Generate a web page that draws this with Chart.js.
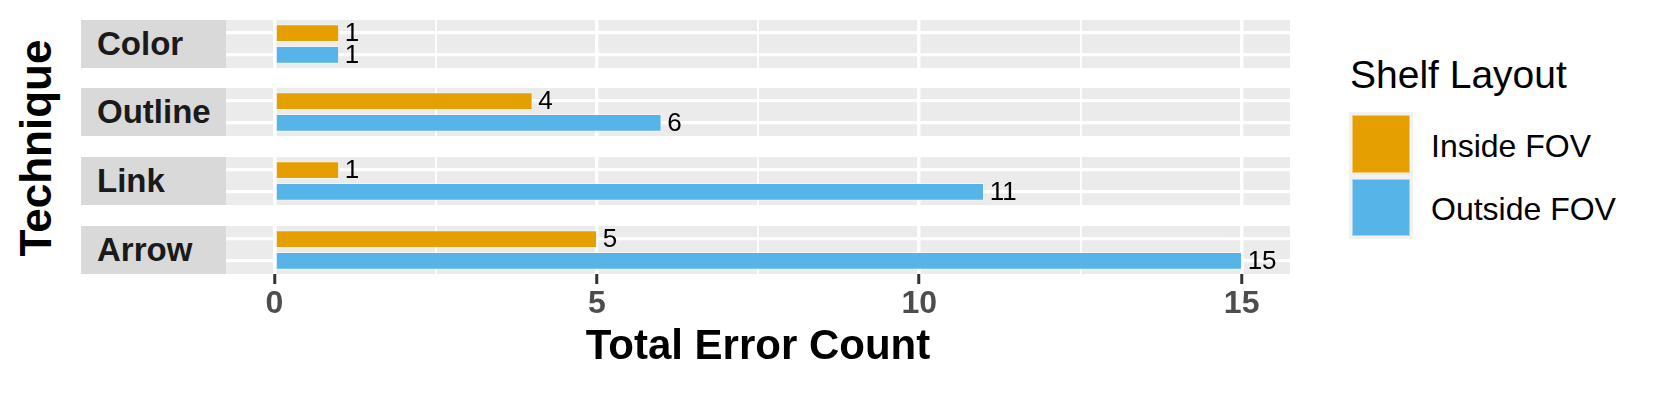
<!DOCTYPE html>
<html>
<head>
<meta charset="utf-8">
<script src="https://cdn.jsdelivr.net/npm/chart.js@4/dist/chart.umd.min.js"></script>
<style>
  html, body { margin: 0; padding: 0; background: #ffffff; }
  body { width: 1661px; height: 394px; position: relative; overflow: hidden;
         font-family: "Liberation Sans", Arial, Helvetica, sans-serif; }
  canvas { position: absolute; }
  .strip { position: absolute; background: #D9D9D9; color: #1A1A1A; font-weight: bold;
           font-size: 33px; box-sizing: border-box; padding-left: 16px; white-space: nowrap; }
  .ytitle { position: absolute; width: 300px; height: 50px; line-height: 50px; text-align: center;
            font-size: 44px; font-weight: bold; color: #000; transform: rotate(-90deg); white-space: nowrap; }
  .legtitle { position: absolute; font-size: 39px; line-height: 39px; color: #000; white-space: nowrap; }
  .legkey { position: absolute; background: #F2F2F2; box-sizing: border-box; padding: 3px; }
  .legkey div { width: 100%; height: 100%; box-sizing: border-box; border: 1px solid rgba(255,255,255,0.45); }
  .leglabel { position: absolute; font-size: 32px; line-height: 32px; color: #000; white-space: nowrap; }
</style>
</head>
<body>
<script>
// ---------------- data ----------------
const techniques = ['Color', 'Outline', 'Link', 'Arrow'];
const shelfLayouts = ['Inside FOV', 'Outside FOV'];
const insideFOV = [1, 4, 1, 5];
const outsideFOV = [1, 6, 11, 15];
const xTickValues = [0, 2.5, 5, 7.5, 10, 12.5, 15];
const xTitle = 'Total Error Count';
const yTitle = 'Technique';
const legendTitle = 'Shelf Layout';

// ---------------- style / layout ----------------
const seriesColors = ['#E69F00', '#56B4E9'];
const panelLeft = 226, panelWidth = 1064;
const facetTops = [20, 88, 157, 226];
const facetHeight = 48;
const stripLeft = 81;
const xMin = -0.75, xMax = 15.75;
const FONT = '"Liberation Sans", Arial, Helvetica, sans-serif';

const body = document.body;

// y title
const yt = document.createElement('div');
yt.className = 'ytitle';
yt.textContent = yTitle;
yt.style.left = (36 - 150) + 'px';
yt.style.top = (147.5 - 25) + 'px';
body.appendChild(yt);

// legend
const lt = document.createElement('div');
lt.className = 'legtitle';
lt.textContent = legendTitle;
lt.style.left = '1350px';
lt.style.top = (88.3 - 0.8465 * 39) + 'px';
body.appendChild(lt);
const keyTops = [112, 175.5];
const labelBaselines = [156.7, 220];
shelfLayouts.forEach((name, k) => {
  const key = document.createElement('div');
  key.className = 'legkey';
  key.style.left = '1349px';
  key.style.top = keyTops[k] + 'px';
  key.style.width = '64px';
  key.style.height = '63.5px';
  const inner = document.createElement('div');
  inner.style.background = seriesColors[k];
  key.appendChild(inner);
  body.appendChild(key);
  const lab = document.createElement('div');
  lab.className = 'leglabel';
  lab.textContent = name;
  lab.style.left = '1431px';
  lab.style.top = (labelBaselines[k] - 0.8465 * 32) + 'px';
  body.appendChild(lab);
});

// plugins
const panelBg = {
  id: 'panelBg',
  beforeDraw(chart) {
    const {ctx, chartArea: a} = chart;
    ctx.save();
    ctx.fillStyle = '#EBEBEB';
    ctx.fillRect(a.left, a.top, a.right - a.left, a.bottom - a.top);
    ctx.restore();
  }
};
const valueLabels = {
  id: 'valueLabels',
  afterDatasetsDraw(chart) {
    const {ctx} = chart;
    ctx.save();
    ctx.font = '26px ' + FONT;
    ctx.fillStyle = '#000000';
    ctx.textAlign = 'left';
    ctx.textBaseline = 'middle';
    chart.data.datasets.forEach((ds, di) => {
      chart.getDatasetMeta(di).data.forEach((bar, j) => {
        ctx.fillText(String(ds.data[j].x), bar.x + 6, bar.y + 1);
      });
    });
    ctx.restore();
  }
};

const isMajor = v => Math.abs(v % 5) < 1e-9;

techniques.forEach((tech, i) => {
  const isLast = i === techniques.length - 1;

  // strip
  const s = document.createElement('div');
  s.className = 'strip';
  s.textContent = tech;
  s.style.left = stripLeft + 'px';
  s.style.top = facetTops[i] + 'px';
  s.style.width = (panelLeft - stripLeft) + 'px';
  s.style.height = facetHeight + 'px';
  s.style.lineHeight = facetHeight + 'px';
  body.appendChild(s);

  const canvasHeight = isLast ? (394 - facetTops[i]) : facetHeight;
  const axisHeight = 10 + 4.5 + 32 + 42 + 6;
  const c = document.createElement('canvas');
  c.width = panelWidth;
  c.height = canvasHeight;
  c.style.left = panelLeft + 'px';
  c.style.top = facetTops[i] + 'px';
  c.style.width = panelWidth + 'px';
  c.style.height = canvasHeight + 'px';
  body.appendChild(c);

  new Chart(c.getContext('2d'), {
    type: 'bar',
    data: {
      datasets: [{
        label: tech,
        data: [{x: insideFOV[i], y: 1}, {x: outsideFOV[i], y: 2}],
        backgroundColor: seriesColors,
        borderColor: 'rgba(255,255,255,0.45)',
        borderWidth: 1,
        borderSkipped: false,
        barThickness: 17
      }]
    },
    options: {
      indexAxis: 'y',
      responsive: false,
      animation: false,
      devicePixelRatio: 1,
      layout: { padding: { left: 0, right: 0, top: 0,
        bottom: isLast ? (canvasHeight - facetHeight - axisHeight) : 0 } },
      plugins: { legend: { display: false }, tooltip: { enabled: false } },
      scales: {
        x: {
          type: 'linear',
          position: 'bottom',
          min: xMin, max: xMax,
          offset: false,
          afterBuildTicks: sc => { sc.ticks = xTickValues.map(v => ({value: v})); },
          afterFit: sc => { if (isLast) sc.height = axisHeight; },
          border: { display: false },
          grid: {
            offset: false,
            color: '#FFFFFF',
            lineWidth: ctx => isMajor(ctx.tick.value) ? 3.5 : 1.8,
            drawTicks: isLast,
            tickLength: 10,
            tickColor: ctx => isMajor(ctx.tick.value) ? '#333333' : 'rgba(0,0,0,0)',
            tickWidth: 3
          },
          ticks: {
            display: isLast,
            autoSkip: false,
            maxRotation: 0,
            padding: 4.5,
            color: '#4D4D4D',
            font: { family: FONT, size: 32, weight: 'bold', lineHeight: 1 },
            callback: v => isMajor(v) ? String(v) : ''
          },
          title: {
            display: isLast,
            text: xTitle,
            color: '#000000',
            font: { family: FONT, size: 42, weight: 'bold', lineHeight: 1 },
            padding: { top: 6, bottom: 0 }
          }
        },
        y: {
          type: 'linear',
          min: 0.4, max: 2.6,
          reverse: true,
          offset: false,
          afterBuildTicks: sc => { sc.ticks = [1, 2].map(v => ({value: v})); },
          border: { display: false },
          grid: { offset: false, color: '#FFFFFF', lineWidth: 3.3, drawTicks: false },
          ticks: { display: false }
        }
      }
    },
    plugins: [panelBg, valueLabels]
  });
});
</script>
</body>
</html>
